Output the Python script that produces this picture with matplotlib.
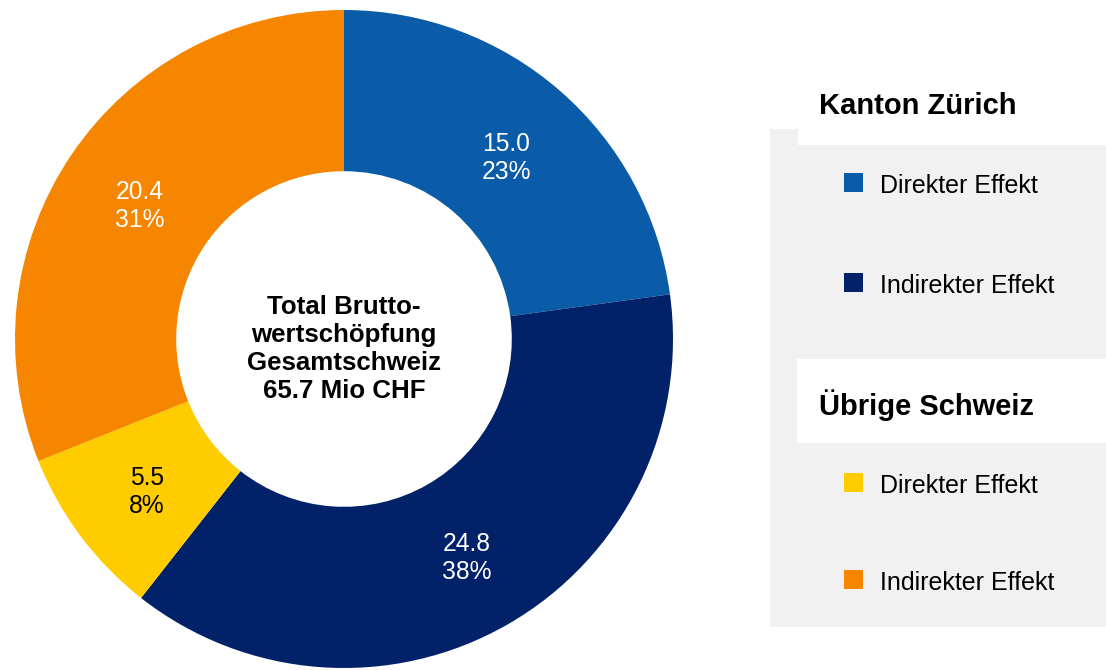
import matplotlib.pyplot as plt
from matplotlib.patches import Rectangle

plt.rcParams['font.family'] = ['Liberation Sans', 'DejaVu Sans']

# data
segments = ['Kanton Zürich Direkter Effekt', 'Kanton Zürich Indirekter Effekt',
            'Übrige Schweiz Direkter Effekt', 'Übrige Schweiz Indirekter Effekt']
values = [15.0, 24.8, 5.5, 20.4]
colors = ['#0A5CA8', '#012169', '#FFCC00', '#F68500']
label_colors = ['white', 'white', 'black', 'white']
groups = ['Kanton Zürich', 'Übrige Schweiz']
effects = ['Direkter Effekt', 'Indirekter Effekt']
center_text = 'Total Brutto-\nwertschöpfung\nGesamtschweiz\n65.7 Mio CHF'

W, H = 1106, 670
fig = plt.figure(figsize=(W / 100, H / 100), dpi=100)
ax = fig.add_axes([0, 0, 1, 1])

total = sum(values)
fmt = iter(values)
wedges, texts, autotexts = ax.pie(
    values, colors=colors, startangle=90, counterclock=False,
    center=(344, H - 339), radius=329,
    wedgeprops=dict(width=329 * 0.49, linewidth=0),
    autopct=lambda p: '%.1f\n%d%%' % (next(fmt), round(p)),
    pctdistance=0.75)
for t, c in zip(autotexts, label_colors):
    t.set_color(c)
    t.set_fontsize(17.7)
    t.set_linespacing(1.2)
    t.set_y(t.get_position()[1] - 5)

ax.text(344, H - 349, center_text, ha='center', va='center', fontsize=18.6,
        fontweight='bold', linespacing=1.2)

# legend panel
ax.add_patch(Rectangle((770, H - 627), 336, 498, color='#F1F1F1', lw=0))
ax.add_patch(Rectangle((798, H - 145), 308, 20, color='white', lw=0))
ax.add_patch(Rectangle((797, H - 443), 309, 84, color='white', lw=0))

header_y = [106, 405]
row_y = [[186, 286], [486, 583]]
for g, grp in enumerate(groups):
    ax.text(819, H - header_y[g], grp, fontsize=21, fontweight='bold',
            va='center', ha='left')
    for e, eff in enumerate(effects):
        y = H - row_y[g][e]
        ax.add_patch(Rectangle((844, y - 5.5), 19, 19, color=colors[g * 2 + e], lw=0))
        ax.text(880, y, eff, fontsize=18, va='center', ha='left')

ax.set_xlim(0, W)
ax.set_ylim(0, H)
ax.set_aspect('equal')
ax.axis('off')

fig.savefig('out.png', dpi=100)
